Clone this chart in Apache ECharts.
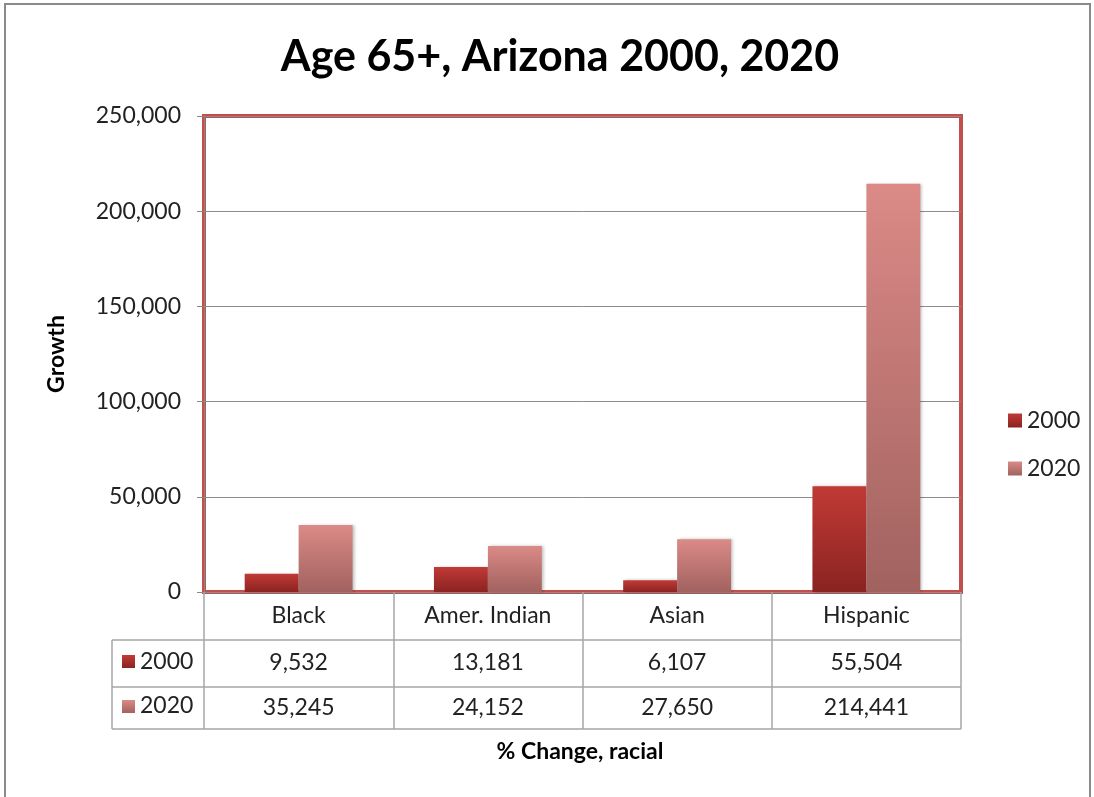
<!DOCTYPE html>
<html>
<head>
<meta charset="utf-8">
<script src="https://cdn.jsdelivr.net/npm/echarts@6/dist/echarts.min.js"></script>
<style>
  html, body { margin: 0; padding: 0; background: #fff; }
  #main { width: 1094px; height: 797px; }
</style>
</head>
<body>
<div id="main"></div>
<script>
// 数据
var categories = ['Black', 'Amer. Indian', 'Asian', 'Hispanic'];
var seriesNames = ['2000', '2020'];
var values2000 = [9532, 13181, 6107, 55504];
var values2020 = [35245, 24152, 27650, 214441];
var yTicks = [0, 50000, 100000, 150000, 200000, 250000];

var myChart = echarts.init(document.getElementById('main'));

var FONT = 'Lato';
var GRAY = '#a6a6a6';
function fmt(v) { return Number(v).toLocaleString('en-US'); }

var grad2000 = new echarts.graphic.LinearGradient(0, 0, 0, 1, [
    { offset: 0, color: '#c13a36' },
    { offset: 1, color: '#8a2321' }
]);
var grad2020 = new echarts.graphic.LinearGradient(0, 0, 0, 1, [
    { offset: 0, color: '#db8a87' },
    { offset: 1, color: '#a1625f' }
]);

// 表格下方的行
function rowAxis(values, offset, margin) {
    return {
        type: 'category',
        position: 'bottom',
        gridIndex: 0,
        offset: offset,
        data: categories,
        axisLine: { show: false },
        axisTick: { show: false },
        axisLabel: {
            margin: margin,
            fontFamily: FONT, fontSize: 23, color: '#222',
            formatter: function (v, i) { return fmt(values[i]); }
        }
    };
}

option = {
    backgroundColor: '#fff',
    animation: false,
    title: {
        text: 'Age 65+, Arizona 2000, 2020',
        left: 555, top: 31, textAlign: 'center',
        textStyle: { fontFamily: FONT, fontSize: 43, fontWeight: 'bold', color: '#000' }
    },
    legend: {
        data: seriesNames,
        orient: 'vertical',
        left: 1003, top: 404,
        itemWidth: 14, itemHeight: 14, itemGap: 25,
        icon: 'rect',
        textStyle: { fontFamily: FONT, fontSize: 23, color: '#222' }
    },
    grid: {
        left: 204, top: 116, right: 133, bottom: 205,
        show: true, borderColor: '#c0504d', borderWidth: 4,
        backgroundColor: 'transparent'
    },
    xAxis: [{
        type: 'category',
        data: categories,
        axisLine: { show: false },
        axisTick: { show: true, length: 137, lineStyle: { color: GRAY, width: 1.5 } },
        axisLabel: { margin: 12, fontFamily: FONT, fontSize: 23, color: '#222' }
    },
        rowAxis(values2000, 48, 11),
        rowAxis(values2020, 95, 9)
    ],
    yAxis: {
        type: 'value',
        min: yTicks[0], max: yTicks[yTicks.length - 1], interval: 50000,
        name: 'Growth',
        nameLocation: 'middle', nameGap: 136, nameRotate: 90,
        nameTextStyle: { fontFamily: FONT, fontSize: 23, fontWeight: 'bold', color: '#000' },
        axisLine: { show: true, lineStyle: { color: '#888' } },
        axisTick: { show: true, length: 7, lineStyle: { color: '#888' } },
        axisLabel: { margin: 23, fontFamily: FONT, fontSize: 23, color: '#222', formatter: fmt },
        splitLine: { lineStyle: { color: '#8c8c8c', width: 1 } }
    },
    series: [{
        name: seriesNames[0], type: 'bar', data: values2000,
        barGap: '0%', barCategoryGap: '43%',
        itemStyle: { color: grad2000, shadowColor: 'rgba(0,0,0,0.25)', shadowBlur: 3, shadowOffsetX: 2 }
    }, {
        name: seriesNames[1], type: 'bar', data: values2020,
        barGap: '0%', barCategoryGap: '43%',
        itemStyle: { color: grad2020, shadowColor: 'rgba(0,0,0,0.25)', shadowBlur: 3, shadowOffsetX: 2 }
    }],
    graphic: [
        // 外框
        { type: 'rect', shape: { x: 5, y: 4, width: 1085, height: 810 }, style: { fill: 'none', stroke: '#8a8a8a', lineWidth: 2 }, silent: true },
        // 表格线
        { type: 'line', shape: { x1: 112, y1: 640, x2: 961, y2: 640 }, style: { stroke: GRAY, lineWidth: 1.5 } },
        { type: 'line', shape: { x1: 112, y1: 687, x2: 961, y2: 687 }, style: { stroke: GRAY, lineWidth: 1.5 } },
        { type: 'line', shape: { x1: 112, y1: 729, x2: 961, y2: 729 }, style: { stroke: GRAY, lineWidth: 1.5 } },
        { type: 'line', shape: { x1: 112, y1: 640, x2: 112, y2: 729 }, style: { stroke: GRAY, lineWidth: 1.5 } },
        // 行标题
        { type: 'rect', shape: { x: 122, y: 655, width: 13, height: 13 }, style: { fill: grad2000 } },
        { type: 'text', x: 140, y: 662, style: { text: seriesNames[0], font: '23px ' + FONT, fill: '#222', textVerticalAlign: 'middle' } },
        { type: 'rect', shape: { x: 122, y: 700, width: 13, height: 13 }, style: { fill: grad2020 } },
        { type: 'text', x: 140, y: 706, style: { text: seriesNames[1], font: '23px ' + FONT, fill: '#222', textVerticalAlign: 'middle' } },
        // X轴标题
        { type: 'text', x: 580, y: 752, style: { text: '% Change, racial', font: 'bold 23px ' + FONT, fill: '#000', textAlign: 'center', textVerticalAlign: 'middle' } }
    ]
};

myChart.setOption(option);
</script>
</body>
</html>
